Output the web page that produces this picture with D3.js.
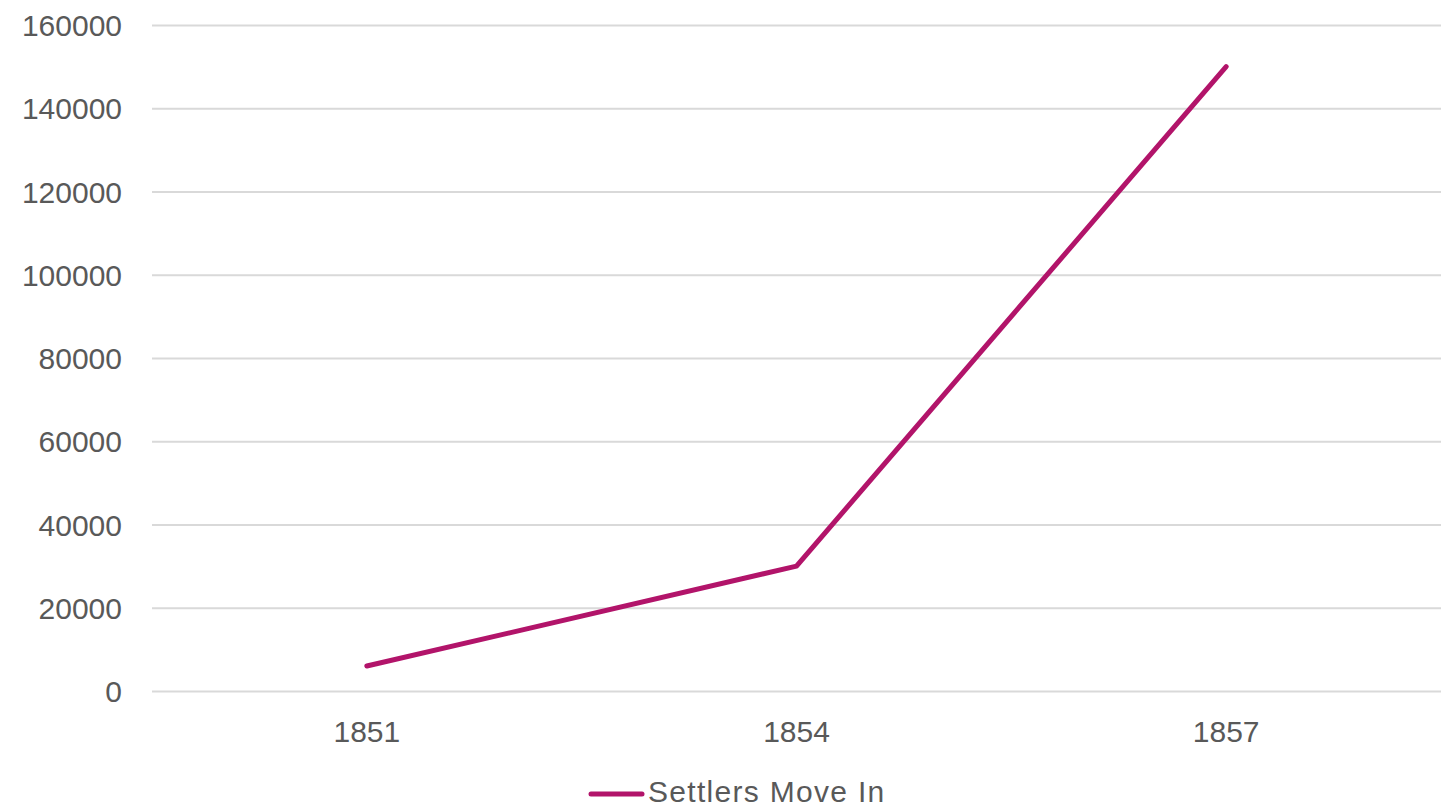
<!DOCTYPE html>
<html><head><meta charset="utf-8">
<script src="https://cdn.jsdelivr.net/npm/d3@7"></script>
<style>body{margin:0;background:#fff}svg{display:block}text{font-family:"Liberation Sans",Arial,sans-serif;fill:#595959}</style>
</head><body><svg id="c" width="1445" height="808"></svg>
<script>
const categories = ["1851","1854","1857"];
const seriesName = "Settlers Move In";
const values = [6000, 30000, 150000];
const yTicks = [0,20000,40000,60000,80000,100000,120000,140000,160000];

const svg = d3.select("#c");
const x = d3.scaleBand().domain(categories).range([152, 1441]);
const y = d3.scaleLinear().domain([0,160000]).range([691, 25]);
const color = "#B2146A";

const yAxis = d3.axisLeft(y).tickValues(yTicks).tickSize(-(1441-152)).tickPadding(30).tickFormat(d3.format("d"));
const gy = svg.append("g").attr("transform","translate(152,0)").call(yAxis);
gy.select(".domain").remove();
gy.selectAll(".tick line").attr("stroke","#d9d9d9").attr("stroke-width",2);
gy.selectAll(".tick text").style("font-size","30px").attr("dy","0.35em");

const xAxis = d3.axisBottom(x).tickSize(0).tickPadding(30);
const gx = svg.append("g").attr("transform","translate(0,691)").call(xAxis);
gx.select(".domain").remove();
gx.selectAll(".tick text").style("font-size","30px");

const line = d3.line().x((d,i)=>x(categories[i])+x.bandwidth()/2).y(d=>y(d));
svg.append("path").datum(values).attr("d",line).attr("fill","none").attr("stroke",color).attr("stroke-width",5).attr("stroke-linecap","round").attr("stroke-linejoin","round");

const lg = svg.append("g");
lg.append("line").attr("x1",591).attr("x2",642).attr("y1",794).attr("y2",794).attr("stroke",color).attr("stroke-width",5).attr("stroke-linecap","round");
lg.append("text").attr("x",648).attr("y",802).style("font-size","30px").style("letter-spacing","1.3px").text(seriesName);
</script></body></html>
